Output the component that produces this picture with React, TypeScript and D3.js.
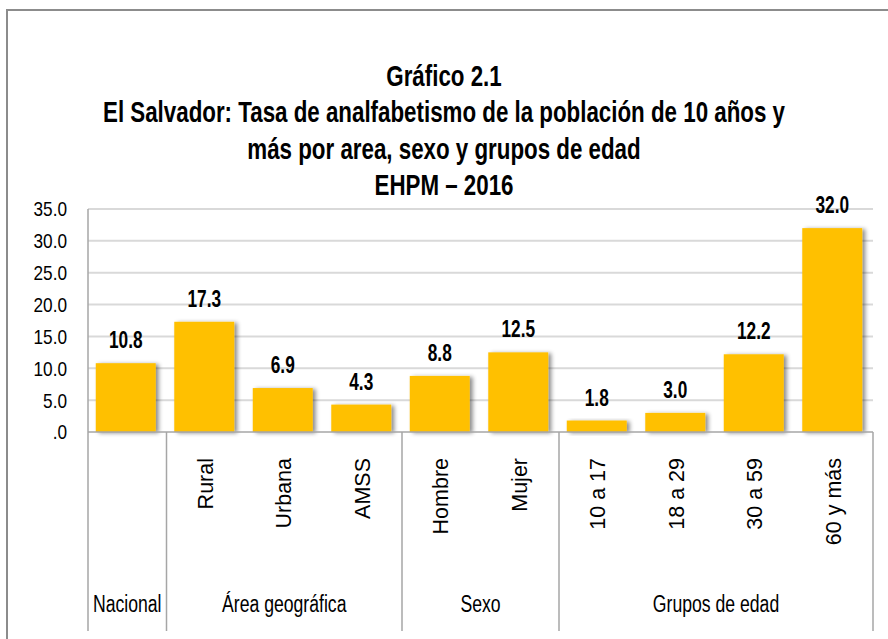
import React from "react";
import * as d3 from "d3";

const categories = ["Nacional", "Rural", "Urbana", "AMSS", "Hombre", "Mujer", "10 a 17", "18 a 29", "30 a 59", "60 y más"];
const subLabels = ["", "Rural", "Urbana", "AMSS", "Hombre", "Mujer", "10 a 17", "18 a 29", "30 a 59", "60 y más"];
const values = [10.8, 17.3, 6.9, 4.3, 8.8, 12.5, 1.8, 3.0, 12.2, 32.0];
const groupNames = ["Nacional", "Área geográfica", "Sexo", "Grupos de edad"];
const groupSizes = [1, 3, 2, 4];
const yTicks = [0, 5, 10, 15, 20, 25, 30, 35];
const titleLines = [
  "Gráfico 2.1",
  "El Salvador: Tasa de analfabetismo de la población de 10 años y",
  "más por area, sexo y grupos de edad",
  "EHPM – 2016",
];

const REG = "'Liberation Sans', Arial, sans-serif";

function NText(props: { x: number; y: number; anchor: string; size: number; sx: number; bold?: boolean; dy?: string; children: React.ReactNode }) {
  return (
    <text
      transform={`translate(${props.x},${props.y}) scale(${props.sx},1)`}
      textAnchor={props.anchor}
      dy={props.dy}
      fontFamily={REG}
      fontWeight={props.bold ? "bold" : "normal"}
      fontSize={props.size}
      fill="#000"
    >
      {props.children}
    </text>
  );
}

export default function App() {
  const W = 888, H = 639;
  const left = 88, right = 873, top = 209, bottom = 432;
  const x = d3.scaleBand<string>().domain(categories).range([left, right]).paddingInner(0.236).paddingOuter(0.118);
  const y = d3.scaleLinear().domain([0, 35]).range([bottom, top]);
  const step = x.step();
  const x0 = left;

  const fmt = (v: number) => (v === 0 ? ".0" : d3.format(".1f")(v));

  const seps: number[] = [x0];
  let acc = 0;
  groupSizes.forEach((s) => { acc += s; seps.push(x0 + acc * step); });
  const groupCenters: number[] = [];
  acc = 0;
  groupSizes.forEach((s) => { groupCenters.push(x0 + (acc + s / 2) * step); acc += s; });

  const titleY = [86, 122, 159, 195];

  return (
    <svg width={W} height={H} style={{ position: "absolute", left: 0, top: 0, background: "#fff" }}>
      <defs>
        <filter id="sh" x="-20%" y="-20%" width="150%" height="150%">
          <feDropShadow dx="3" dy="1" stdDeviation="2" floodColor="#000" floodOpacity="0.45" />
        </filter>
      </defs>
      <rect x={0} y={0} width={W} height={H} fill="#fff" />
      <rect x={7} y={10} width={950} height={700} fill="none" stroke="#8c8c8c" strokeWidth={2} />
      {titleLines.map((t, i) => (
        <NText key={i} x={444} y={titleY[i]} anchor="middle" size={29} sx={0.77} bold>{t}</NText>
      ))}
      {yTicks.map((t) => (
        <g key={t}>
          {t > 0 && <line x1={left} x2={right} y1={y(t)} y2={y(t)} stroke="#d9d9d9" strokeWidth={2} />}
          <NText x={67} y={y(t)} dy="0.35em" anchor="end" size={21} sx={0.82}>{fmt(t)}</NText>
        </g>
      ))}
      {categories.map((c, i) => (
        <g key={c}>
          <rect x={x(c)! - 1.5} y={y(values[i])} width={x.bandwidth()} height={bottom - y(values[i])} fill="#FFC000" filter="url(#sh)" />
          <NText x={x(c)! - 1.5 + x.bandwidth() / 2} y={y(values[i]) - 15} anchor="middle" size={24} sx={0.72} bold>{fmt(values[i])}</NText>
        </g>
      ))}
      <line x1={left} x2={left} y1={top} y2={bottom} stroke="#a6a6a6" strokeWidth={1.5} />
      <line x1={left} x2={right} y1={bottom} y2={bottom} stroke="#a6a6a6" strokeWidth={1.5} />
      {seps.map((s, i) => (
        <line key={i} x1={s} x2={s} y1={bottom} y2={631} stroke="#a6a6a6" strokeWidth={1.5} />
      ))}
      {categories.map((c, i) => (
        subLabels[i] ? (
          <text key={c} transform={`translate(${x(c)! + x.bandwidth() / 2 + 7},458) rotate(-90)`} textAnchor="end" fontFamily={REG} fontSize={21.5} fill="#000">{subLabels[i]}</text>
        ) : null
      ))}
      {groupNames.map((g, i) => (
        <NText key={g} x={groupCenters[i]} y={612} anchor="middle" size={23.5} sx={0.75}>{g}</NText>
      ))}
    </svg>
  );
}
